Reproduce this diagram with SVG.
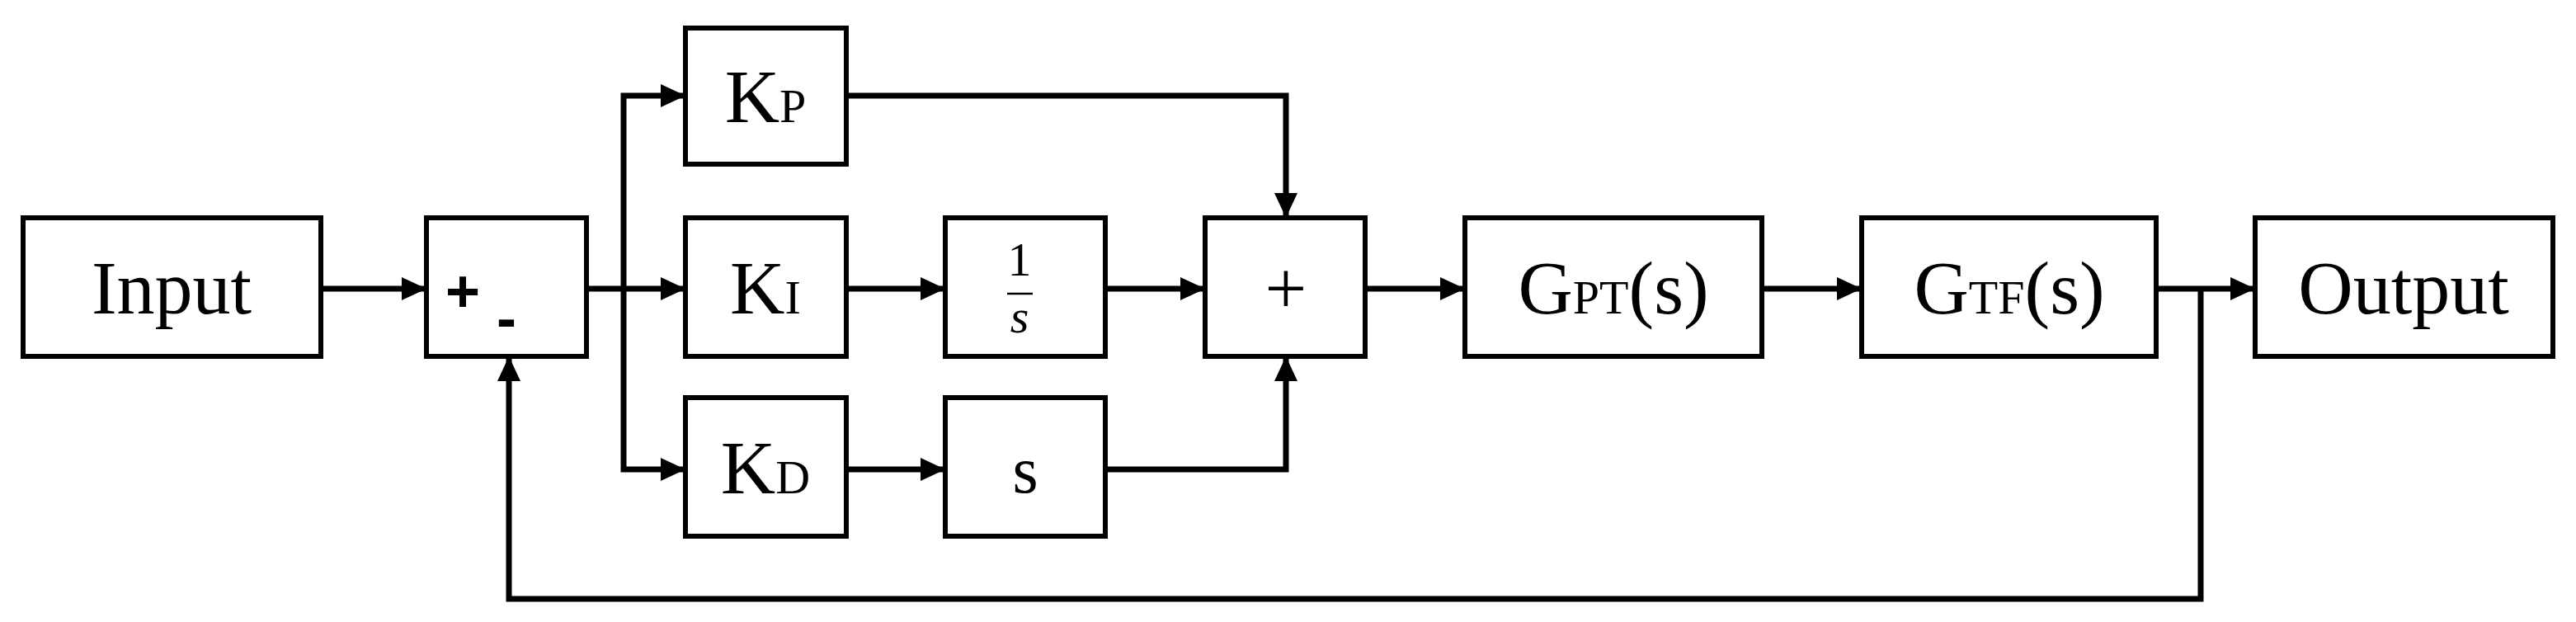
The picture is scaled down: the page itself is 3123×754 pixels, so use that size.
<svg xmlns="http://www.w3.org/2000/svg" width="3123" height="754" viewBox="0 0 3123 754">
<style>
.b{fill:#fff;stroke:#000;stroke-width:6}
.t{font-family:"Liberation Serif",serif;fill:#000;text-anchor:middle}
.c{fill:none;stroke:#000;stroke-width:7}
</style>
<defs><marker id="a" markerUnits="userSpaceOnUse" markerWidth="30" markerHeight="28" refX="30" refY="14" orient="auto"><path d="M0,0L30,14L0,28z" fill="#000"/></marker></defs>
<g id="connectors" class="c">
<path d="M389,350H517" marker-end="url(#a)"/>
<path d="M711,350H831" marker-end="url(#a)"/>
<path d="M756,350V116H831" marker-end="url(#a)"/>
<path d="M756,350V569H831" marker-end="url(#a)"/>
<path d="M1026,350H1146" marker-end="url(#a)"/>
<path d="M1026,569H1146" marker-end="url(#a)"/>
<path d="M1340,350H1461" marker-end="url(#a)"/>
<path d="M1026,116H1559V264" marker-end="url(#a)"/>
<path d="M1340,569H1559V432" marker-end="url(#a)"/>
<path d="M1655,350H1776" marker-end="url(#a)"/>
<path d="M2136,350H2257" marker-end="url(#a)"/>
<path d="M2614,350H2734" marker-end="url(#a)"/>
<path d="M2668,350V726H617V432" marker-end="url(#a)"/>
</g>
<g id="input"><rect class="b" x="28" y="264" width="361" height="168"/><text class="t" x="208" y="380" font-size="92">Input</text></g>
<g id="sum1"><rect class="b" x="517" y="264" width="194" height="168"/><text x="561" y="378" font-family="Liberation Sans,sans-serif" font-weight="bold" font-size="72" text-anchor="middle">+</text><text x="614" y="410" font-family="Liberation Sans,sans-serif" font-weight="bold" font-size="72" text-anchor="middle">-</text></g>
<g id="kp"><rect class="b" x="831" y="34" width="195" height="165"/><text class="t" x="928" y="148" font-size="92">K<tspan font-size="58">P</tspan></text></g>
<g id="ki"><rect class="b" x="831" y="264" width="195" height="168"/><text class="t" x="928" y="380" font-size="92">K<tspan font-size="58">I</tspan></text></g>
<g id="kd"><rect class="b" x="831" y="482" width="195" height="168"/><text class="t" x="928" y="598" font-size="92">K<tspan font-size="58">D</tspan></text></g>
<g id="integ"><rect class="b" x="1146" y="264" width="194" height="168"/><text class="t" x="1236" y="334" font-size="58">1</text><line x1="1221" y1="356" x2="1252" y2="356" stroke="#000" stroke-width="2.5"/><text class="t" x="1236" y="403" font-size="58" font-style="italic">s</text></g>
<g id="deriv"><rect class="b" x="1146" y="482" width="194" height="168"/><text class="t" x="1243" y="597" font-size="80">s</text></g>
<g id="sum2"><rect class="b" x="1461" y="264" width="194" height="168"/><text class="t" x="1559" y="380" font-size="90">+</text></g>
<g id="gpt"><rect class="b" x="1776" y="264" width="360" height="168"/><text class="t" x="1956" y="380" font-size="92">G<tspan font-size="58">PT</tspan>(s)</text></g>
<g id="gtf"><rect class="b" x="2257" y="264" width="357" height="168"/><text class="t" x="2436" y="380" font-size="92">G<tspan font-size="58">TF</tspan>(s)</text></g>
<g id="output"><rect class="b" x="2734" y="264" width="361" height="168"/><text class="t" x="2914" y="380" font-size="92">Output</text></g>
</svg>
